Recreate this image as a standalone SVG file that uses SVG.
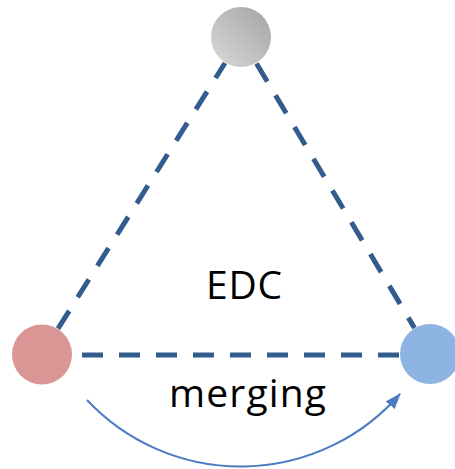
<svg xmlns="http://www.w3.org/2000/svg" width="455" height="469" viewBox="0 0 455 469">
  <style>
    .edge { stroke: #335C8E; stroke-width: 5; stroke-dasharray: 21 16; fill: none; }
    .flow { stroke: #4A7CC4; stroke-width: 2; fill: none; }
    .label { font-family: "Open Sans", "Noto Sans", sans-serif; font-size: 39px; fill: #000; text-anchor: middle; }
  </style>
  <defs>
    <linearGradient id="grayFill" x1="1" y1="0" x2="0" y2="1">
      <stop offset="0" stop-color="#a3a3a3"/>
      <stop offset="1" stop-color="#dadada"/>
    </linearGradient>
    <marker id="arrowHead" viewBox="0 0 16 12" refX="15" refY="6" markerWidth="16" markerHeight="12" markerUnits="userSpaceOnUse" orient="auto">
      <path d="M0,0 L16,6 L0,12 z" fill="#4A7CC4"/>
    </marker>
  </defs>

  <!-- connectors -->
  <g id="connectors">
    <line class="edge" x1="58" y1="328.6" x2="225" y2="63"/>
    <line class="edge" x1="256.5" y1="63.5" x2="414.5" y2="328"/>
    <line class="edge" x1="82" y1="355" x2="400" y2="355"/>
    <path class="flow" d="M87,400 A211,211 0 0 0 400,394" marker-end="url(#arrowHead)"/>
  </g>

  <!-- nodes -->
  <g id="node-top">
    <circle cx="241" cy="37" r="30" fill="url(#grayFill)"/>
  </g>
  <g id="node-left">
    <circle cx="42" cy="354.5" r="30" fill="#D99694"/>
  </g>
  <g id="node-right">
    <circle cx="430" cy="354" r="30" fill="#8EB4E3"/>
  </g>

  <!-- labels -->
  <g id="labels">
    <text class="label" x="244" y="299" textLength="76" lengthAdjust="spacing">EDC</text>
    <text class="label" x="247.5" y="407" textLength="157" lengthAdjust="spacing">merging</text>
  </g>
</svg>
